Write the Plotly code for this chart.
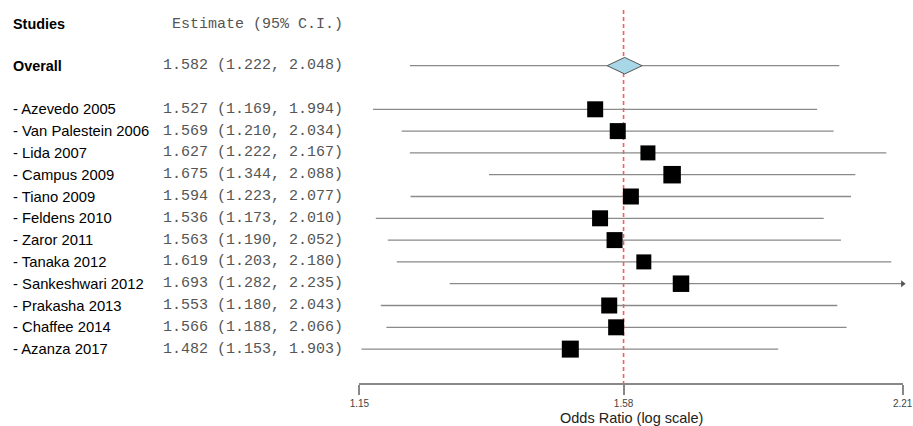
import math
import plotly.graph_objects as go

# ---------------- data ----------------
studies = ["Azevedo 2005", "Van Palestein 2006", "Lida 2007", "Campus 2009",
           "Tiano 2009", "Feldens 2010", "Zaror 2011", "Tanaka 2012",
           "Sankeshwari 2012", "Prakasha 2013", "Chaffee 2014", "Azanza 2017"]
estimates = [1.527, 1.569, 1.627, 1.675, 1.594, 1.536, 1.563, 1.619, 1.693, 1.553, 1.566, 1.482]
lower = [1.169, 1.210, 1.222, 1.344, 1.223, 1.173, 1.190, 1.203, 1.282, 1.180, 1.188, 1.153]
upper = [1.994, 2.034, 2.167, 2.088, 2.077, 2.010, 2.052, 2.180, 2.235, 2.043, 2.066, 1.903]
weights = [16, 16, 15, 17.5, 16, 16, 16, 15, 16.5, 16, 16, 17]  # relative study weights (box size)

overall_label = "Overall"
overall_est, overall_lo, overall_hi = 1.582, 1.222, 2.048

tick_vals = [1.15, 1.58, 2.21]
tick_text = ["1.15", "1.58", "2.21"]
ref_value = 1.58

# ---------------- layout constants ----------------
W, H = 913, 426
ML, MR, MT, MB = 359, 8, 0, 43
PW = W - ML - MR
PH = H - MT - MB
x_min, x_max = tick_vals[0], tick_vals[-1]

n = len(studies)
study_rows = [n - i for i in range(n)]   # 12 .. 1
overall_row = n + 2
header_row = n + 3.9
row_px = 21.8
first_px = 109.3
y_top = n + first_px / row_px
y_bot = n - (PH - first_px) / row_px


def px_to_paper_x(px):
    return (px - ML) / PW


def px_to_row(py):
    return n + (first_px - py) / row_px


line_col = "#8a8a8a"
fig = go.Figure()

# reference line
fig.add_trace(go.Scatter(
    x=[ref_value, ref_value], y=[px_to_row(10), y_bot], mode="lines",
    line=dict(color="#ff5a5a", width=1.6, dash="4px,3px"),
    hoverinfo="skip", showlegend=False))

# CI lines
xs, ys = [], []
arrow_x, arrow_y = [], []
for lo, hi, r in zip(lower + [overall_lo], upper + [overall_hi], study_rows + [overall_row]):
    xs += [max(lo, x_min), min(hi, x_max), None]
    ys += [r, r, None]
    if hi > x_max:
        arrow_x.append(x_max)
        arrow_y.append(r)
fig.add_trace(go.Scatter(x=xs, y=ys, mode="lines", line=dict(color=line_col, width=1.3),
                         hoverinfo="skip", showlegend=False))
if arrow_x:
    fig.add_trace(go.Scatter(x=arrow_x, y=arrow_y, mode="markers",
                             marker=dict(symbol="triangle-right", size=6, color="#555555"),
                             cliponaxis=False, hoverinfo="skip", showlegend=False))

# diamond for overall
f = math.exp(0.021)
h = 0.38
fig.add_trace(go.Scatter(
    x=[overall_est / f, overall_est, overall_est * f, overall_est, overall_est / f],
    y=[overall_row, overall_row + h, overall_row, overall_row - h, overall_row],
    mode="lines", fill="toself", fillcolor="#a8d8e8",
    line=dict(color="#555555", width=1), hoverinfo="skip", showlegend=False))

# study boxes
fig.add_trace(go.Scatter(
    x=estimates, y=study_rows, mode="markers", opacity=1,
    marker=dict(symbol="square", size=weights, color="#000000", opacity=1,
                line=dict(width=0)),
    hoverinfo="skip", showlegend=False))

# ---------------- text columns ----------------
annots = []
name_font = dict(family="Liberation Sans, Arial", size=14.8, color="#000000")
bold_font = dict(family="Liberation Sans, Arial", size=14.4, color="#000000")
est_font = dict(family="Liberation Mono, Courier New", size=15, color="#555555")
x_name = px_to_paper_x(10)
x_est = px_to_paper_x(345)


def add_text(text, x, y, font, anchor):
    annots.append(dict(text=text, x=x, y=y, xref="paper", yref="y", xanchor=anchor,
                       yanchor="middle", showarrow=False, font=font))


add_text("<b>Studies</b>", x_name, header_row, bold_font, "left")
add_text("Estimate (95% C.I.)", x_est, header_row, est_font, "right")
add_text("<b>%s</b>" % overall_label, x_name, overall_row, bold_font, "left")
add_text("%.3f (%.3f, %.3f)" % (overall_est, overall_lo, overall_hi), x_est, overall_row, est_font, "right")
for s, e, lo, hi, r in zip(studies, estimates, lower, upper, study_rows):
    add_text("- " + s, x_name, r, name_font, "left")
    add_text("%.3f (%.3f, %.3f)" % (e, lo, hi), x_est, r, est_font, "right")

annots.append(dict(text="Odds Ratio (log scale)", x=0.5, y=(PH - (418 - MT)) / PH,
                   xref="paper", yref="paper", xanchor="center", yanchor="middle",
                   showarrow=False, font=dict(family="Liberation Sans, Arial", size=14.5, color="#222222")))

eps = 2e-4
fig.update_layout(
    width=W, height=H,
    margin=dict(l=ML, r=MR, t=MT, b=MB, pad=0),
    paper_bgcolor="white", plot_bgcolor="white",
    annotations=annots,
    xaxis=dict(type="log", range=[math.log10(x_min) - eps, math.log10(x_max) + eps],
               tickvals=tick_vals, ticktext=tick_text, ticks="outside", ticklen=10,
               tickwidth=1.5, tickcolor="#888888", showline=True, linecolor="#888888",
               linewidth=1.5, showgrid=False, zeroline=False, fixedrange=True,
               ticklabeloverflow="allow",
               tickfont=dict(family="Liberation Sans, Arial", size=10, color="#444444")),
    yaxis=dict(range=[y_bot, y_top], visible=False, fixedrange=True),
)

fig.write_html("out.html")
